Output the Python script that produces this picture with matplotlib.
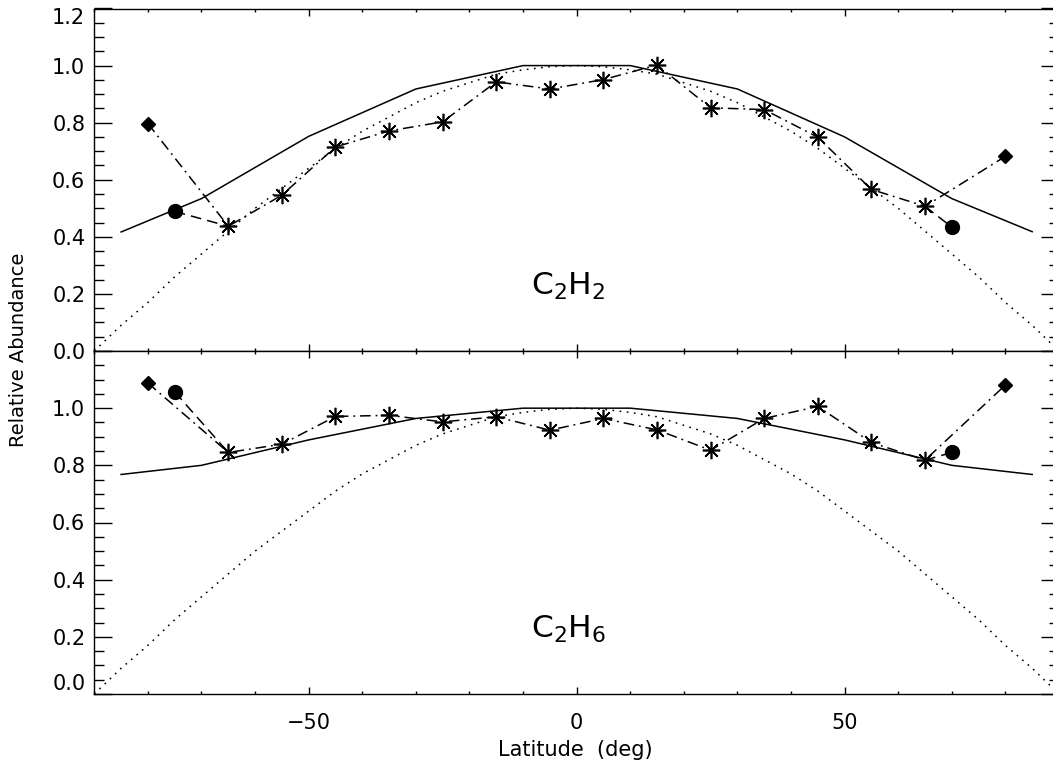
import matplotlib
matplotlib.use('Agg')
import matplotlib.pyplot as plt
from matplotlib.ticker import MultipleLocator, FuncFormatter

plt.rcParams['font.family'] = ['DejaVu Sans']
plt.rcParams['mathtext.default'] = 'regular'

# ---------------- data ----------------
lat_model = [-85, -70, -50, -30, -10, 10, 30, 50, 70, 85]
c2h2_model = [0.417, 0.534, 0.752, 0.918, 1.0, 1.0, 0.918, 0.750, 0.534, 0.418]
c2h6_model = [0.768, 0.800, 0.889, 0.964, 1.0, 1.0, 0.964, 0.889, 0.800, 0.768]

lat_dot = [-90, -85, -80, -75, -70, -65, -60, -55, -50, -45, -40, -35, -30, -25, -20,
           -15, -10, -5, 0, 5, 10, 15, 20, 25, 30, 35, 40, 45, 50, 55, 60, 65, 70,
           75, 80, 85, 90]
dot_vals = [0.00, 0.09, 0.17, 0.26, 0.34, 0.42, 0.50, 0.57, 0.64, 0.71, 0.77, 0.82,
            0.87, 0.91, 0.94, 0.97, 0.985, 0.996, 1.00, 0.996, 0.985, 0.97, 0.94, 0.91,
            0.87, 0.82, 0.77, 0.71, 0.64, 0.57, 0.50, 0.42, 0.34, 0.26, 0.17, 0.09, 0.00]

lat_obs = [-65, -55, -45, -35, -25, -15, -5, 5, 15, 25, 35, 45, 55, 65]
c2h2_obs = [0.437, 0.546, 0.715, 0.771, 0.803, 0.943, 0.918, 0.951, 1.002, 0.852,
            0.846, 0.749, 0.566, 0.507]
c2h6_obs = [0.845, 0.874, 0.971, 0.975, 0.952, 0.970, 0.923, 0.964, 0.924, 0.853,
            0.964, 1.006, 0.880, 0.818]

lat_diamond = [-80, 80]
c2h2_diamond = [0.797, 0.682]
c2h6_diamond = [1.088, 1.081]

lat_circle = [-75, 70]
c2h2_circle = [0.489, 0.434]
c2h6_circle = [1.057, 0.845]

labels = [r'C$_2$H$_2$', r'C$_2$H$_6$']

# ---------------- figure ----------------
W, H = 1053, 768
fig = plt.figure(figsize=(W / 100, H / 100), dpi=100)
left = 94.3 / W
width = (1059 - 94.3) / W
ax1 = fig.add_axes([left, 1 - 351 / H, width, 342.5 / H])
ax2 = fig.add_axes([left, 1 - 694 / H, width, 343 / H])

asterisk = (8, 2, 0)
dashdot = (0, (7, 3.2, 1.2, 3.2))
dashed = (0, (7, 4))
dotted = (0, (1.1, 3.6))

for ax, model, obs, dia, cir, lab in [
        (ax1, c2h2_model, c2h2_obs, c2h2_diamond, c2h2_circle, labels[0]),
        (ax2, c2h6_model, c2h6_obs, c2h6_diamond, c2h6_circle, labels[1])]:
    ax.plot(lat_model, model, color='black', lw=1.1, ls='-')
    ax.plot(lat_dot, dot_vals, color='black', lw=1.1, ls=dotted)
    xs = [lat_diamond[0]] + lat_obs + [lat_diamond[1]]
    ys = [dia[0]] + obs + [dia[1]]
    ax.plot(xs, ys, color='black', lw=1.1, ls=dashdot)
    ax.plot([lat_circle[0], lat_obs[0]], [cir[0], obs[0]], color='black', lw=1.1, ls=dashed)
    ax.plot([lat_obs[-1], lat_circle[1]], [obs[-1], cir[1]], color='black', lw=1.1, ls=dashed)
    ax.plot(lat_obs, obs, ls='none', marker=asterisk, ms=12.5, mew=1.2, color='black')
    ax.plot(lat_diamond, dia, ls='none', marker='D', ms=7.5, color='black')
    ax.plot(lat_circle, cir, ls='none', marker='o', ms=10, color='black')
    ax.text(-1.5, 0.195, lab, ha='center', va='baseline', fontsize=22.5)

    ax.set_xlim(-90, 90)
    ax.set_ylim(0, 1.2)
    ax.xaxis.set_major_locator(MultipleLocator(50))
    ax.xaxis.set_minor_locator(MultipleLocator(10))
    ax.yaxis.set_major_locator(MultipleLocator(0.2))
    ax.yaxis.set_minor_locator(MultipleLocator(0.05))
    ax.tick_params(which='both', direction='in', top=True, right=True, width=1.0,
                   labelsize=15, colors='black')
    ax.tick_params(axis='x', which='major', length=5, pad=13.5)
    ax.tick_params(axis='x', which='minor', length=2.5)
    ax.tick_params(axis='y', which='major', length=13, pad=6.5)
    ax.tick_params(axis='y', which='minor', length=7)
    for s in ax.spines.values():
        s.set_linewidth(1.0)

ax1.tick_params(axis='x', labelbottom=False)
ax1.yaxis.set_major_formatter(FuncFormatter(lambda v, p: f'{v:.1f}'))
ax2.yaxis.set_major_formatter(FuncFormatter(lambda v, p: '' if v > 1.1 else f'{v:.1f}'))
ax2.xaxis.set_major_formatter(FuncFormatter(lambda v, p: f'{v:.0f}'.replace('-', '\u2212')))

fig.canvas.draw()
for t in ax1.get_yticklabels():
    if t.get_text() == '1.2':
        t.set_va('top')
for t in ax2.get_yticklabels():
    if t.get_text() == '0.0':
        t.set_va('bottom')

fig.text(18 / W, 1 - 350 / H, 'Relative Abundance', rotation=90, ha='center',
         va='center', fontsize=14)
fig.text(575 / W, 1 - 750 / H, 'Latitude  (deg)', ha='center', va='center', fontsize=15)

fig.savefig('out.png', dpi=100)
